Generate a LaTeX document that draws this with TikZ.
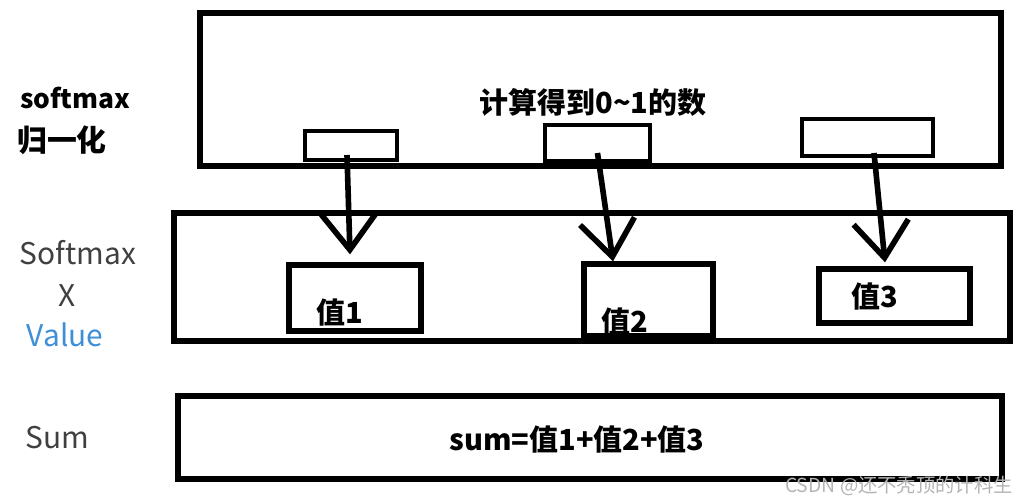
\documentclass[tikz,border=0pt]{standalone}
\usepackage{fontspec}
\setmainfont{Noto Sans CJK SC}
\usepackage{xcolor}
\usetikzlibrary{arrows.meta,positioning}
\definecolor{lblgray}{HTML}{404040}
\definecolor{valblue}{HTML}{3D8FD9}
\definecolor{markgray}{HTML}{B4B4B4}

\begin{document}
\begin{tikzpicture}[
  x=0.02cm, y=-0.02cm,
  frame/.style={draw, line width=3.3pt, inner sep=0pt},
  slot/.style={draw, line width=2.7pt, inner sep=0pt},
  valbox/.style={draw, line width=3pt, inner sep=0pt},
  boldtxt/.style={font=\fontsize{16.5}{18}\selectfont\bfseries},
  side/.style={font=\fontsize{17}{19}\selectfont, text=lblgray},
  arr/.style={-{Straight Barb[length=0.72cm, width=1.1cm]}, line width=3.2pt}
]
  \useasboundingbox (0,0) rectangle (1020,502);

  % three layers
  \node[frame, minimum width=16.02cm, minimum height=3.06cm] (norm) at (600.5,89.5) {};
  \node[frame, minimum width=16.72cm, minimum height=2.56cm] (mult) at (592,277) {};
  \node[frame, minimum width=16.48cm, minimum height=1.66cm] (total) at (590,437.5) {};

  \node[boldtxt] (normtxt) at (593,102) {计算得到0\textasciitilde1的数};
  \node[slot, minimum width=1.84cm, minimum height=0.58cm] (sa) at (351,145.5) {};
  \node[slot, minimum width=2.10cm, minimum height=0.72cm] (sb) at (597.5,143) {};
  \node[slot, minimum width=2.62cm, minimum height=0.74cm] (sc) at (867.5,137.5) {};

  \node[valbox, minimum width=2.64cm, minimum height=1.32cm] (v1) at (355,298) {};
  \node[valbox, minimum width=2.58cm, minimum height=1.44cm] (v2) at (648.5,300) {};
  \node[valbox, minimum width=3.02cm, minimum height=1.08cm] (v3) at (894.5,296) {};
  \node[boldtxt] (t1) at (340,313) {值1};
  \node[boldtxt] (t2) at (625,322) {值2};
  \node[boldtxt] (t3) at (875,297) {值3};

  \node[boldtxt] (sumtxt) at (577,440) {sum=值1+值2+值3};

  % left labels
  \node[boldtxt, font=\fontsize{15}{17}\selectfont\bfseries] (lsoft) at (75,98) {softmax};
  \node[boldtxt, font=\fontsize{17}{19}\selectfont\bfseries] (lnorm) at (62,140) {归一化};
  \node[side] (lmult) at (78,253) {Softmax};
  \node[side] (lx) at (67,296) {X};
  \node[side, text=valblue] (lval) at (65,335) {Value};
  \node[side] (lsum) at (57,438) {Sum};

  \node[font=\fontsize{11}{13}\selectfont, text=markgray] (mark) at (899,486) {CSDN @还不秃顶的计科生};

  \draw[arr] ([xshift=-0.08cm,yshift=-0.19cm]sa.center) -- ([xshift=-0.1cm,yshift=0.16cm]v1.north);
  \draw[arr] ([yshift=-0.2cm]sb.center) -- ([xshift=-0.71cm]v2.north);
  \draw[arr] ([xshift=0.13cm,yshift=-0.31cm]sc.center) -- ([xshift=-0.19cm,yshift=0.08cm]v3.north);
\end{tikzpicture}
\end{document}
